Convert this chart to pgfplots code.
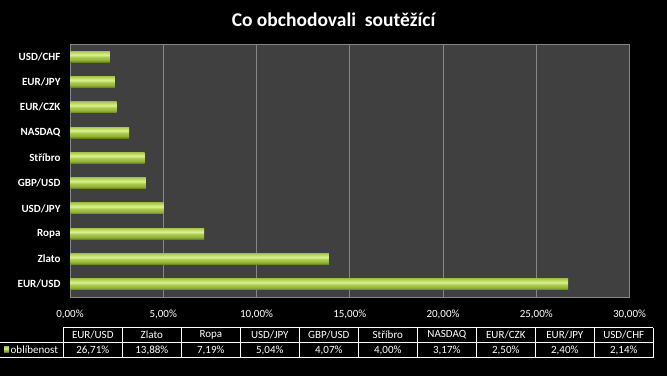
\documentclass[border=0pt]{standalone}
\usepackage{pgfplots}
\usepackage{pgfplotstable}
\pgfplotsset{compat=1.18}
\usepackage{fontspec}
\setmainfont{Carlito}
\definecolor{plotbg}{HTML}{404040}
\definecolor{gridc}{HTML}{868686}
\definecolor{bdark}{HTML}{63821C}
\definecolor{blow}{HTML}{94B43A}
\definecolor{bmain}{HTML}{ADCB4C}
\definecolor{bhigh}{HTML}{D9F194}
\definecolor{bhigh2}{HTML}{C6E26E}
\definecolor{btop}{HTML}{A9C84E}
\pgfdeclareverticalshading{barshade}{100bp}{color(0bp)=(bdark); color(25bp)=(bdark); color(35bp)=(blow); color(48bp)=(bmain); color(58bp)=(bhigh); color(66bp)=(bhigh2); color(75bp)=(btop); color(100bp)=(btop)}
\pgfplotstableread{
i v
0 26.71
1 13.88
2 7.19
3 5.04
4 4.07
5 4.00
6 3.17
7 2.50
8 2.40
9 2.14
}\datatable
\begin{document}
\begin{tikzpicture}[x=1pt,y=1pt]
\path[use as bounding box, fill=black] (0,0) rectangle (667,376);
\begin{axis}[
  at={(70pt,79pt)}, anchor=south west,
  scale only axis, width=559.5pt, height=253pt,
  xmin=0, xmax=30, ymin=-0.5, ymax=9.5,
  xtick={0,5,...,30},
  xticklabels={{0,00\%},{5,00\%},{10,00\%},{15,00\%},{20,00\%},{25,00\%},{30,00\%}},
  ytick={0,...,9},
  yticklabels={EUR/USD,Zlato,Ropa,USD/JPY,GBP/USD,Stříbro,NASDAQ,EUR/CZK,EUR/JPY,USD/CHF},
  xticklabel style={font=\fontsize{11}{13}\selectfont, text=white, yshift=-9pt},
  yticklabel style={font=\bfseries\fontsize{11}{13}\selectfont, text=white, xshift=-6pt},
  major tick length=0pt,
  xmajorgrids, grid style={gridc, line width=0.8pt},
  axis line style={gridc, line width=0.8pt},
  axis background/.style={fill=plotbg},
  xbar, bar width=11pt,
]
\pgfplotsinvokeforeach{0,...,9}{
\addplot[xbar, bar shift=0pt, draw=none, shade, shading=barshade]
  table[x=v, y=i, restrict expr to domain={\coordindex}{#1:#1}] {\datatable};
}
\end{axis}
\node[font=\bfseries\fontsize{19.5}{23}\selectfont, text=white] at (333.5,356) {Co obchodovali\ \ soutěžící};
% data table
\draw[white, line width=0.8pt] (63.3,48.3) -- (653.3,48.3) (0,33.7) -- (653.3,33.7) (0,18.3) -- (653.3,18.3);
\foreach \k in {0,...,10} \draw[white, line width=0.8pt] ({63.3+59*\k},48.3) -- ({63.3+59*\k},18.3);
\foreach \n [count=\k from 0] in {EUR/USD,Zlato,Ropa,USD/JPY,GBP/USD,Stříbro,NASDAQ,EUR/CZK,EUR/JPY,USD/CHF}
  \node[text=white, font=\fontsize{11}{13}\selectfont] at ({92.8+59*\k},41) {\n};
\foreach \n [count=\k from 0] in {{26,71\%},{13,88\%},{7,19\%},{5,04\%},{4,07\%},{4,00\%},{3,17\%},{2,50\%},{2,40\%},{2,14\%}}
  \node[text=white, font=\fontsize{11}{13}\selectfont] at ({92.8+59*\k},26) {\n};
\fill[shading=barshade] (4,24) rectangle (9,29.5);
\node[anchor=west, inner sep=0pt, text=white, font=\fontsize{11}{13}\selectfont] at (10.5,26) {oblíbenost};
\end{tikzpicture}
\end{document}
